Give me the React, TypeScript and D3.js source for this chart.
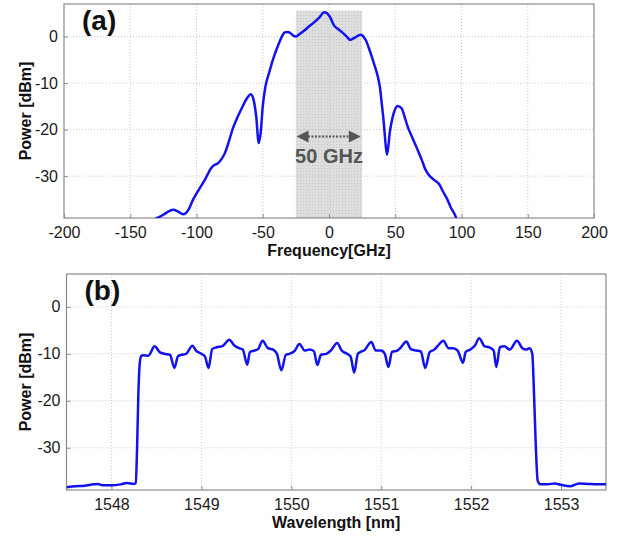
import * as d3 from "d3";
import React, { useRef, useEffect } from "react";

const W = 621;
const H = 536;

// panel (a): spectrum vs. frequency
const freqGHz = [
	-131, -125, -121, -117.5, -114, -110, -106, -102.5, -98, -93.5, -89, -86.5, -84, -81, -78.5, -75.5,
	-72.5, -69.5, -66.5, -62, -59, -57, -55, -53, -51.5, -50, -48, -45, -42.5, -38, -35, -33.5, -31,
	-29, -27, -25, -22, -18.6, -15, -11, -7, -3.6, -1.5, 0.5, 4, 7, 10, 13, 16, 19, 22, 24, 26, 27.9,
	30, 32.4, 34.5, 36.9, 38.5, 39.8, 41, 42, 43.7, 45, 45.8, 47.3, 48.8, 51.8, 54.8, 57, 59.3, 63,
	66.8, 70, 72.8, 75.5, 78.8, 83.3, 86, 89.3, 92, 95.3, 96.5,
];
const powerA = [
	-39.2, -38.3, -37.6, -37.2, -37.6, -38.2, -37.2, -35, -32.8, -30.7, -28.3, -27.6, -27.3, -26.3, -25,
	-22.5, -19.7, -17.6, -15.8, -13.3, -12.4, -13.5, -17, -22.9, -20.5, -15, -10.8, -7.6, -5.1, -1.6,
	0.3, 0.9, 1.0, 0.7, 0.2, 0, 0.6, 1.3, 2.2, 3.1, 4.2, 5.2, 5.0, 4.3, 2.3, 1.6, 0.9, 0.1, -0.7, -0.3,
	0.2, 0.4, 0, -0.85, -2.4, -4.4, -6.3, -8.7, -11, -14.4, -17.5, -20.8, -25.4, -23, -20.8, -18.3,
	-16.5, -14.9, -15.4, -17.2, -19.3, -21.8, -24.3, -26.5, -28.6, -29.8, -30.7, -31.8, -33.3, -35,
	-36.8, -38.5, -39.5,
];

// panel (b): spectrum vs. wavelength
const waveNm = [
	1547.5, 1547.6, 1547.7, 1547.8, 1547.85, 1547.9, 1548.0, 1548.1, 1548.17, 1548.25, 1548.27,
	1548.285, 1548.3, 1548.315, 1548.33, 1548.35, 1548.41, 1548.48, 1548.54, 1548.59, 1548.65,
	1548.7, 1548.74, 1548.78, 1548.83, 1548.9, 1548.94, 1549.0, 1549.04, 1549.08, 1549.12, 1549.17,
	1549.24, 1549.31, 1549.37, 1549.42, 1549.46, 1549.51, 1549.54, 1549.59, 1549.63, 1549.68,
	1549.74, 1549.8, 1549.84, 1549.89, 1549.94, 1549.98, 1550.04, 1550.09, 1550.15, 1550.2, 1550.25,
	1550.29, 1550.33, 1550.39, 1550.44, 1550.51, 1550.56, 1550.62, 1550.66, 1550.7, 1550.74,
	1550.78, 1550.81, 1550.89, 1550.94, 1551.0, 1551.04, 1551.08, 1551.12, 1551.18, 1551.22,
	1551.28, 1551.33, 1551.39, 1551.44, 1551.49, 1551.54, 1551.59, 1551.63, 1551.69, 1551.75,
	1551.8, 1551.85, 1551.91, 1551.94, 1551.99, 1552.04, 1552.09, 1552.15, 1552.2, 1552.25,
	1552.28, 1552.32, 1552.37, 1552.43, 1552.51, 1552.57, 1552.61, 1552.65, 1552.68, 1552.7,
	1552.72, 1552.74, 1552.77, 1552.85, 1552.93, 1553.0, 1553.1, 1553.2, 1553.3, 1553.4, 1553.5,
];
const powerB = [
	-38.4, -38.2, -38.1, -37.8, -37.7, -38.0, -38.0, -37.8, -37.5, -37.7, -37.5, -30, -18, -12,
	-10.5, -10.3, -10.4, -8.4, -9.7, -10, -10.2, -13.0, -10.5, -10.2, -10.0, -8.3, -9.3, -10.0,
	-10.6, -13.0, -9.0, -8.6, -8.3, -7.0, -8.3, -8.8, -9.1, -12.3, -9.6, -9.3, -9.0, -7.2, -8.8,
	-9.1, -10, -13.5, -10.2, -10.0, -9.3, -7.9, -9.3, -9.1, -9.4, -12.4, -10.2, -10.0, -9.3, -7.7,
	-9.3, -10.0, -10.6, -14.0, -10.0, -9.5, -9.3, -7.5, -9.3, -9.3, -10.0, -12.8, -9.6, -9.3, -8.6,
	-7.4, -9.0, -9.3, -9.5, -13.0, -9.6, -9.1, -8.3, -7.2, -8.8, -8.8, -9.3, -11.9, -9.6, -9.1,
	-8.3, -6.7, -8.4, -8.6, -9.3, -12.8, -8.6, -8.4, -9.1, -7.2, -8.8, -9.1, -8.8, -10.0, -18.8,
	-30, -37.0, -37.8, -37.8, -37.6, -37.9, -38.2, -37.6, -37.7, -37.8, -37.8,
];

const freqTicks = [-200, -150, -100, -50, 0, 50, 100, 150, 200];
const waveTicks = [1548, 1549, 1550, 1551, 1552, 1553];
const powerTicks = [0, -10, -20, -30];

const FONT = "'Liberation Sans', Arial, sans-serif";
const LINE = "#1212ee";

type Panel = {
	id: string;
	label: string;
	xTitle: string;
	xs: number[];
	ys: number[];
	xDomain: [number, number];
	xTicks: number[];
	box: { left: number; right: number; top: number; bottom: number };
};

const panels: Panel[] = [
	{
		id: "a",
		label: "(a)",
		xTitle: "Frequency[GHz]",
		xs: freqGHz,
		ys: powerA,
		xDomain: [-200, 200],
		xTicks: freqTicks,
		box: { left: 64, right: 594, top: 4, bottom: 218 },
	},
	{
		id: "b",
		label: "(b)",
		xTitle: "Wavelength [nm]",
		xs: waveNm,
		ys: powerB,
		xDomain: [1547.5, 1553.5],
		xTicks: waveTicks,
		box: { left: 66.5, right: 606, top: 274, bottom: 490 },
	},
];

const App = () => {
	const ref = useRef(null);

	useEffect(() => {
		if (!ref.current) return;
		const svg = d3.select(ref.current);
		svg.selectAll("*").remove();

		const defs = svg.append("defs");
		const pat = defs
			.append("pattern")
			.attr("id", "shade")
			.attr("width", 3)
			.attr("height", 3)
			.attr("patternUnits", "userSpaceOnUse");
		pat.append("rect").attr("width", 3).attr("height", 3).attr("fill", "#dedede");
		pat.append("rect").attr("width", 1).attr("height", 1).attr("fill", "#c4c4c4");

		panels.forEach((p) => {
			const { left, right, top, bottom } = p.box;
			const x = d3.scaleLinear().domain(p.xDomain).range([left, right]);
			const y = d3.scaleLinear().domain([7, -39]).range([top, bottom]);
			const g = svg.append("g");

			defs
				.append("clipPath")
				.attr("id", "clip-" + p.id)
				.append("rect")
				.attr("x", left)
				.attr("y", top)
				.attr("width", right - left)
				.attr("height", bottom - top);

			// shaded 50 GHz window (panel a only)
			if (p.id === "a") {
				g.append("rect")
					.attr("x", x(-25))
					.attr("y", y(5.6))
					.attr("width", x(25) - x(-25))
					.attr("height", y(-39) - y(5.6))
					.attr("fill", "url(#shade)");
			}

			// grid
			g.selectAll(".vgrid")
				.data(p.xTicks.filter((t) => x(t) > left + 1 && x(t) < right - 1))
				.enter()
				.append("line")
				.attr("x1", (d) => x(d))
				.attr("x2", (d) => x(d))
				.attr("y1", top)
				.attr("y2", bottom)
				.attr("stroke", "#c8c8c8")
				.attr("stroke-dasharray", "1,2");
			g.selectAll(".hgrid")
				.data(powerTicks)
				.enter()
				.append("line")
				.attr("x1", left)
				.attr("x2", right)
				.attr("y1", (d) => y(d))
				.attr("y2", (d) => y(d))
				.attr("stroke", "#c8c8c8")
				.attr("stroke-dasharray", "1,2");

			// box + inward ticks
			g.append("rect")
				.attr("x", left)
				.attr("y", top)
				.attr("width", right - left)
				.attr("height", bottom - top)
				.attr("fill", "none")
				.attr("stroke", "#8a8a8a")
				.attr("stroke-width", 1.2);

			const xAxis = d3.axisBottom(x).tickValues(p.xTicks).tickSize(-4).tickPadding(9);
			const xa = g.append("g").attr("transform", `translate(0,${bottom})`).call(xAxis);
			const yAxis = d3.axisLeft(y).tickValues(powerTicks).tickSize(-4).tickPadding(6);
			const ya = g.append("g").attr("transform", `translate(${left},0)`).call(yAxis);
			[xa, ya].forEach((a) => {
				a.select(".domain").remove();
				a.selectAll("line").attr("stroke", "#8a8a8a");
				a.selectAll("text")
					.attr("fill", "#1a1a1a")
					.style("font-family", FONT)
					.style("font-size", "16px")
					.text((d: any) => String(d));
			});

			// data line
			const line = d3
				.line<number>()
				.x((_, i) => x(p.xs[i]))
				.y((d) => y(d))
				.curve(d3.curveMonotoneX);
			g.append("path")
				.datum(p.ys)
				.attr("clip-path", `url(#clip-${p.id})`)
				.attr("d", line)
				.attr("fill", "none")
				.attr("stroke", LINE)
				.attr("stroke-width", 2.5)
				.attr("stroke-linejoin", "round");

			// annotation arrow (panel a)
			if (p.id === "a") {
				const ay = y(-21.5);
				const x1 = x(-24.5);
				const x2 = x(24);
				g.append("line")
					.attr("x1", x1 + 8)
					.attr("x2", x2 - 8)
					.attr("y1", ay)
					.attr("y2", ay)
					.attr("stroke", "#555")
					.attr("stroke-width", 2)
					.attr("stroke-dasharray", "2,1.5");
				g.append("path")
					.attr("d", `M${x1},${ay} L${x1 + 12},${ay - 6} L${x1 + 12},${ay + 6} Z`)
					.attr("fill", "#555");
				g.append("path")
					.attr("d", `M${x2},${ay} L${x2 - 12},${ay - 6} L${x2 - 12},${ay + 6} Z`)
					.attr("fill", "#555");
				g.append("text")
					.attr("x", x(0))
					.attr("y", y(-25.7) + 7)
					.attr("text-anchor", "middle")
					.attr("fill", "#555")
					.style("font-family", FONT)
					.style("font-size", "20px")
					.style("font-weight", "bold")
					.text("50 GHz");
			}

			// titles
			g.append("text")
				.attr("x", left + 18)
				.attr("y", top + 26)
				.attr("fill", "#111")
				.style("font-family", FONT)
				.style("font-size", "28px")
				.style("font-weight", "bold")
				.text(p.label);
			g.append("text")
				.attr("x", (left + right) / 2)
				.attr("y", bottom + 38)
				.attr("text-anchor", "middle")
				.attr("fill", "#111")
				.style("font-family", FONT)
				.style("font-size", "16px")
				.style("font-weight", "bold")
				.text(p.xTitle);
			g.append("text")
				.attr("transform", `translate(31,${(top + bottom) / 2}) rotate(-90)`)
				.attr("text-anchor", "middle")
				.attr("fill", "#111")
				.style("font-family", FONT)
				.style("font-size", "16px")
				.style("font-weight", "bold")
				.text("Power [dBm]");
		});
	}, []);

	return (
		<svg
			ref={ref}
			width={W}
			height={H}
			style={{ position: "absolute", left: 0, top: 0, backgroundColor: "white" }}
		/>
	);
};

export default App;
